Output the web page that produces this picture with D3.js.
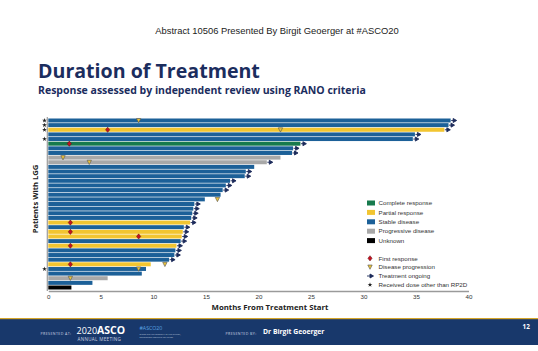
<!DOCTYPE html>
<html>
<head>
<meta charset="utf-8">
<script src="https://cdn.jsdelivr.net/npm/d3@7"></script>
<style>
  body { margin: 0; background: #fff; }
  svg { display: block; }
</style>
</head>
<body>
<div id="chart"></div>
<script>
// one entry per patient row, top to bottom
var duration = [38.3, 38.1, 37.7, 34.9, 34.7, 24.0, 23.3, 23.2, 22.1, 20.8,
                19.6, 18.8, 18.7, 17.3, 16.9, 16.6, 16.4, 14.9, 13.9, 13.8,
                13.7, 13.6, 13.5, 12.9, 12.8, 12.7, 12.6, 12.2, 12.1, 12.0,
                11.5, 9.75, 9.3, 8.9, 5.65, 4.2, 2.2];
var response = ["SD", "SD", "PR", "SD", "SD", "CR", "SD", "SD", "PD", "PD",
                "SD", "SD", "SD", "SD", "SD", "SD", "SD", "SD", "SD", "SD",
                "SD", "SD", "PR", "SD", "PR", "PR", "SD", "PR", "SD", "SD",
                "SD", "PR", "SD", "SD", "PD", "SD", "UN"];
var ongoing = [1, 1, 1, 1, 1, 1, 1, 1, 0, 1,
               0, 1, 1, 1, 1, 1, 0, 0, 1, 1,
               1, 1, 1, 1, 1, 1, 1, 1, 1, 1,
               1, 0, 0, 0, 0, 0, 0];
var firstResponse = [null, null, 5.65, null, null, 2.0, null, null, null, null,
                     null, null, null, null, null, null, null, null, null, null,
                     null, null, 2.1, null, 2.1, 8.6, null, 2.1, null, null,
                     null, 2.1, null, null, null, null, null];
var progression = [8.6, null, 22.1, null, null, null, null, null, 1.4, 3.9,
                   null, null, null, null, null, null, null, 16.1, null, null,
                   null, null, null, null, null, null, null, null, null, null,
                   null, 11.1, 8.6, null, 2.1, null, null];
var otherDose = [1, 1, 1, 0, 1, 0, 0, 0, 0, 0,
                 0, 0, 0, 0, 0, 0, 0, 0, 0, 0,
                 0, 0, 0, 0, 0, 0, 0, 0, 0, 0,
                 0, 0, 1, 0, 0, 0, 0];

var xTicks = [0, 5, 10, 15, 20, 25, 30, 35, 40];
var responseKeys = ["CR", "PR", "SD", "PD", "UN"];
var responseLabels = ["Complete response", "Partial response", "Stable disease", "Progressive disease", "Unknown"];
var markerLabels = ["First response", "Disease progression", "Treatment ongoing", "Received dose other than RP2D"];

var colors = {CR: "#177a4d", PR: "#f2c531", SD: "#1c6098", PD: "#a8a8a8", UN: "#000000"};
var navy = "#1b2d5e";

var width = 538, height = 351;

var svg = d3.select("#chart").append("svg")
    .attr("width", width)
    .attr("height", height);

svg.append("rect").attr("width", width).attr("height", height).attr("fill", "#fff");

// header texts
svg.append("text")
    .attr("x", 277).attr("y", 34)
    .attr("text-anchor", "middle")
    .attr("font-family", "Liberation Sans, Arial, sans-serif")
    .attr("font-size", 9.4)
    .attr("fill", "#222")
    .text("Abstract 10506 Presented By Birgit Geoerger at #ASCO20");

svg.append("text")
    .attr("x", 38).attr("y", 78)
    .attr("font-family", "Open Sans, sans-serif")
    .attr("font-weight", 700)
    .attr("font-size", 19.6)
    .attr("fill", navy)
    .text("Duration of Treatment");

svg.append("text")
    .attr("x", 38).attr("y", 94)
    .attr("font-family", "Open Sans, sans-serif")
    .attr("font-weight", 700)
    .attr("font-size", 10.5)
    .attr("fill", navy)
    .text("Response assessed by independent review using RANO criteria");

// scales
var x = d3.scaleLinear().domain([0, 40]).range([48.3, 468.5]);
var y = d3.scaleBand().domain(d3.range(duration.length)).range([118.5, 289.5]).paddingInner(0.14);

var rows = duration.map(function(d, i) {
  return {i: i, dur: d, resp: response[i], on: ongoing[i], fr: firstResponse[i],
          pr: progression[i], star: otherDose[i]};
});

// bars
svg.append("g").selectAll("rect")
    .data(rows)
  .enter().append("rect")
    .attr("x", x(0))
    .attr("y", function(d) { return y(d.i); })
    .attr("width", function(d) { return x(d.dur) - x(0); })
    .attr("height", y.bandwidth())
    .attr("fill", function(d) { return colors[d.resp]; });

// axes
svg.append("line")
    .attr("x1", x(0) - 1).attr("x2", x(0) - 1)
    .attr("y1", 117).attr("y2", 291)
    .attr("stroke", "#9a9a9a").attr("stroke-width", 1.2);

var xAxis = d3.axisBottom(x).tickValues(xTicks).tickSize(0).tickPadding(4);
var gx = svg.append("g")
    .attr("transform", "translate(0,291)")
    .call(xAxis);
gx.select(".domain").attr("stroke", "#9a9a9a").attr("stroke-width", 1.6);
gx.selectAll("text")
    .attr("font-family", "Liberation Sans, Arial, sans-serif")
    .attr("font-size", 6.2)
    .attr("fill", "#333");

svg.append("text")
    .attr("x", 270).attr("y", 310)
    .attr("text-anchor", "middle")
    .attr("font-family", "Open Sans, sans-serif")
    .attr("font-weight", 700)
    .attr("font-size", 7.8)
    .attr("fill", "#222")
    .text("Months From Treatment Start");

svg.append("text")
    .attr("transform", "translate(38,199)rotate(-90)")
    .attr("text-anchor", "middle")
    .attr("font-family", "Open Sans, sans-serif")
    .attr("font-weight", 700)
    .attr("font-size", 7.6)
    .attr("fill", "#222")
    .text("Patients With LGG");

// markers
var cy = function(i) { return y(i) + y.bandwidth() / 2; };

function arrowPath(px, py) {
  return "M" + (px + 0.5) + "," + py + "L" + (px + 3) + "," + py +
         "M" + (px + 2.5) + "," + (py - 2) + "L" + (px + 6) + "," + py + "L" + (px + 2.5) + "," + (py + 2) + "Z";
}
function diamondPath(px, py) {
  return "M" + px + "," + (py - 2.6) + "L" + (px + 2.1) + "," + py + "L" + px + "," + (py + 2.6) + "L" + (px - 2.1) + "," + py + "Z";
}
function trianglePath(px, py) {
  return "M" + (px - 2.2) + "," + (py - 2) + "L" + (px + 2.2) + "," + (py - 2) + "L" + px + "," + (py + 2.3) + "Z";
}
var star = d3.symbol().type(d3.symbolStar).size(7);

svg.append("g").selectAll("path")
    .data(rows.filter(function(d) { return d.on; }))
  .enter().append("path")
    .attr("d", function(d) { return arrowPath(x(d.dur), cy(d.i)); })
    .attr("fill", "#1c2a5a").attr("stroke", "#1c2a5a").attr("stroke-width", 0.9);

svg.append("g").selectAll("path")
    .data(rows.filter(function(d) { return d.fr != null; }))
  .enter().append("path")
    .attr("d", function(d) { return diamondPath(x(d.fr), cy(d.i)); })
    .attr("fill", "#c4121f").attr("stroke", "#5a0b12").attr("stroke-width", 0.5);

svg.append("g").selectAll("path")
    .data(rows.filter(function(d) { return d.pr != null; }))
  .enter().append("path")
    .attr("d", function(d) { return trianglePath(x(d.pr), cy(d.i)); })
    .attr("fill", "#e9c23a").attr("stroke", "#555").attr("stroke-width", 0.6);

svg.append("g").selectAll("path")
    .data(rows.filter(function(d) { return d.star; }))
  .enter().append("path")
    .attr("transform", function(d) { return "translate(44.5," + cy(d.i) + ")"; })
    .attr("d", star)
    .attr("fill", "#222");

// legend
var legend = svg.append("g").attr("font-family", "Liberation Sans, Arial, sans-serif")
    .attr("font-size", 6.2).attr("fill", "#333");
var lg = legend.selectAll("g.resp")
    .data(responseKeys)
  .enter().append("g")
    .attr("transform", function(d, i) { return "translate(367," + (200.5 + i * 9.4) + ")"; });
lg.append("rect").attr("width", 8).attr("height", 5).attr("fill", function(d) { return colors[d]; });
lg.append("text").attr("x", 11.5).attr("y", 4.6).text(function(d, i) { return responseLabels[i]; });

var my = [258.3, 267, 276, 284.8];
var mg = legend.selectAll("g.mk")
    .data(markerLabels)
  .enter().append("g")
    .attr("transform", function(d, i) { return "translate(370," + my[i] + ")"; });
mg.append("text").attr("x", 8.5).attr("y", 2.2).text(function(d) { return d; });
mg.filter(function(d, i) { return i === 0; }).append("path")
    .attr("d", diamondPath(0, 0)).attr("fill", "#c4121f").attr("stroke", "#5a0b12").attr("stroke-width", 0.5);
mg.filter(function(d, i) { return i === 1; }).append("path")
    .attr("d", trianglePath(0, 0)).attr("fill", "#e9c23a").attr("stroke", "#555").attr("stroke-width", 0.6);
mg.filter(function(d, i) { return i === 2; }).append("path")
    .attr("d", "M-3,0L1,0M0,-2L3.5,0L0,2Z").attr("fill", "#1c2a5a").attr("stroke", "#1c2a5a").attr("stroke-width", 0.9);
mg.filter(function(d, i) { return i === 3; }).append("path")
    .attr("d", star).attr("fill", "#222");

// footer band
svg.append("rect").attr("x", 0).attr("y", 318).attr("width", width).attr("height", 27).attr("fill", "#18386b");
svg.append("rect").attr("x", 0).attr("y", 318).attr("width", width).attr("height", 1.2).attr("fill", "#d4a52a");

var foot = svg.append("g").attr("font-family", "Open Sans, sans-serif");
foot.append("text").attr("x", 40.5).attr("y", 334.5).attr("font-size", 3.6).attr("fill", "#c8d0e0")
    .attr("letter-spacing", 0.4).text("PRESENTED AT:");
foot.append("text").attr("x", 76.5).attr("y", 334).attr("fill", "#fff")
    .call(function(t) {
      t.append("tspan").attr("font-size", 9).text("2020");
      t.append("tspan").attr("font-size", 10.5).attr("font-weight", 700).text("ASCO");
    });
foot.append("text").attr("x", 77.5).attr("y", 340.6).attr("font-size", 4.6).attr("fill", "#c8d0e0")
    .attr("letter-spacing", 0.3).text("ANNUAL MEETING");
foot.append("text").attr("x", 139.5).attr("y", 330).attr("font-size", 5.2).attr("fill", "#5aa5e2").text("#ASCO20");
foot.append("text").attr("x", 139.5).attr("y", 334.5).attr("font-size", 2.4).attr("fill", "#b8c4da")
    .text("Slides are the property of the author,");
foot.append("text").attr("x", 139.5).attr("y", 337.5).attr("font-size", 2.4).attr("fill", "#b8c4da")
    .text("permission required for reuse.");
foot.append("text").attr("x", 225.5).attr("y", 334.5).attr("font-size", 3.6).attr("fill", "#c8d0e0")
    .attr("letter-spacing", 0.4).text("PRESENTED BY:");
foot.append("text").attr("x", 263).attr("y", 334.2).attr("font-size", 6.8).attr("font-weight", 700)
    .attr("fill", "#fff").text("Dr Birgit Geoerger");
foot.append("text").attr("x", 522.5).attr("y", 328.5).attr("font-size", 6.4).attr("font-weight", 700)
    .attr("fill", "#fff").text("12");
</script>
</body>
</html>
